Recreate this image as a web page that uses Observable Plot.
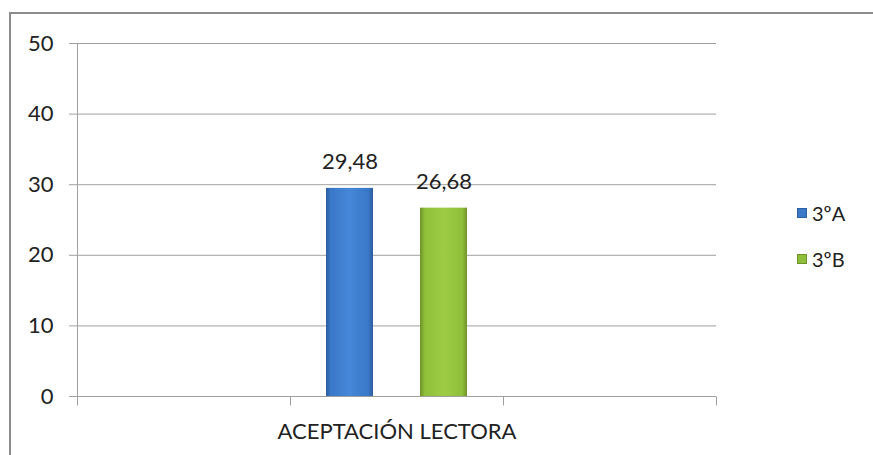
<!DOCTYPE html>
<html><head><meta charset="utf-8">
<script src="https://cdn.jsdelivr.net/npm/d3@7"></script>
<script src="https://cdn.jsdelivr.net/npm/@observablehq/plot@0.6"></script>
<style>
html,body{margin:0;padding:0;background:#fff;}
#wrap{position:relative;width:873px;height:455px;overflow:hidden;font-family:Lato,sans-serif;}
#frame{position:absolute;left:9px;top:12px;width:900px;height:500px;border-top:2px solid #8c8c8c;border-left:2px solid #8c8c8c;box-sizing:border-box;}
#chart{position:absolute;left:0;top:0;}
#legend{position:absolute;left:797px;top:201px;font-size:20px;color:#222;}
.item{display:flex;align-items:center;height:24px;margin-bottom:22px;}
.sw{width:10px;height:10px;margin-right:5px;box-sizing:border-box;}
</style></head><body>
<div id="wrap"><div id="frame"></div><div id="chart"></div><div id="legend"></div></div>
<script>
const categories = ["", "ACEPTACIÓN LECTORA", " "];
const series = ["3ºA", "3ºB"];
const values = [29.48, 26.68];
const yTicks = [0, 10, 20, 30, 40, 50];

const data = series.map((s, i) => ({category: categories[1], series: s, value: values[i]}));
const gridData = categories.flatMap(c => yTicks.map(t => ({category: c, tick: t})));

const gradients = {
  gradA: [["0%", "#2c5d9f"], ["10%", "#3a78c8"], ["50%", "#4587d8"], ["90%", "#3a78c8"], ["100%", "#2c5d9f"]],
  gradB: [["0%", "#6f9228"], ["10%", "#8fbe3a"], ["50%", "#9dcc44"], ["90%", "#8fbe3a"], ["100%", "#6f9228"]]
};
const legendColors = ["#3a78c8", "#8fbe3a"];
const legendEdges = ["#2c5d9f", "#6f9228"];

const fmt = d3.formatLocale({decimal: ",", thousands: ".", grouping: [3], currency: ["", "€"]}).format(".2f");

const chart = Plot.plot({
  width: 873, height: 455,
  marginLeft: 76, marginRight: 157, marginTop: 43, marginBottom: 59,
  style: {fontFamily: "Lato, sans-serif", fontSize: "22px", color: "#222", background: "transparent"},
  fx: {domain: categories, padding: 0, label: null},
  x: {domain: series, paddingInner: 0.495, paddingOuter: 0.37, axis: null},
  y: {domain: [0, 50], label: null},
  color: {domain: series, range: ["url(#gradA)", "url(#gradB)"]},
  marks: [
    Plot.ruleY(gridData, {fx: "category", y: "tick", stroke: "#a0a0a0", strokeWidth: 1}),
    Plot.axisY(yTicks, {tickSize: 8, tickPadding: 16, stroke: "#a0a0a0", fill: "#222", fontSize: 22, label: null}),
    Plot.axisFx({anchor: "bottom", tickSize: 0, tickPadding: 27, fontSize: 22, label: null, fill: "#222"}),
    Plot.barY(data, {fx: "category", x: "series", y: "value", fill: "series"}),
    Plot.text(data, {fx: "category", x: "series", y: "value", text: d => fmt(d.value), dy: -19, lineAnchor: "bottom", fontSize: 22, fill: "#222"})
  ]
});

const svg = d3.select(chart);
const defs = svg.insert("defs", ":first-child");
for (const [id, stops] of Object.entries(gradients)) {
  const lg = defs.append("linearGradient").attr("id", id).attr("x1", "0").attr("x2", "1").attr("y1", "0").attr("y2", "0");
  stops.forEach(([o, c]) => lg.append("stop").attr("offset", o).attr("stop-color", c));
}
const fxS = chart.scale("fx"), yS = chart.scale("y");
const y0 = yS.apply(0), yTop = yS.apply(yTicks[yTicks.length - 1]);
const bounds = categories.map(c => fxS.apply(c)).concat([fxS.apply(categories[categories.length - 1]) + fxS.bandwidth]);
const g = svg.append("g").attr("stroke", "#a0a0a0").attr("transform", "translate(0.5,0.5)");
g.append("line").attr("x1", bounds[0]).attr("x2", bounds[0]).attr("y1", yTop).attr("y2", y0);
g.selectAll("line.t").data(bounds).join("line").attr("class", "t")
  .attr("x1", d => d).attr("x2", d => d).attr("y1", y0).attr("y2", y0 + 9);

document.getElementById("chart").appendChild(chart);

const legend = d3.select("#legend");
series.forEach((s, i) => {
  const it = legend.append("div").attr("class", "item");
  it.append("div").attr("class", "sw").style("background", legendColors[i]).style("border", "1px solid " + legendEdges[i]);
  it.append("span").text(s);
});
</script>
</body></html>
